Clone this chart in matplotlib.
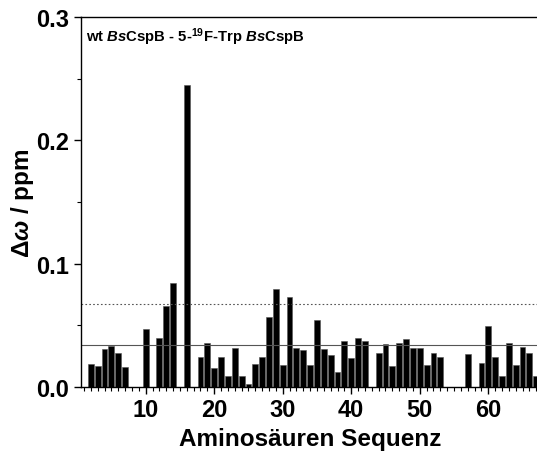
import numpy as np
import matplotlib
matplotlib.use("Agg")
import matplotlib.pyplot as plt
from matplotlib.ticker import MultipleLocator, FormatStrFormatter

plt.rcParams.update({'font.family': 'Liberation Sans', 'font.weight': 'bold',
                     'mathtext.fontset': 'custom', 'mathtext.rm': 'Liberation Sans',
                     'mathtext.it': 'Liberation Sans:italic',
                     'mathtext.bf': 'Liberation Sans:bold',
                     'mathtext.bfit': 'Liberation Sans:bold:italic'})

# residue number and chemical shift difference (ppm)
residues = np.arange(1, 68)
delta = [0.0, 0.0186, 0.0173, 0.0305, 0.033, 0.0276, 0.0162, 0.0, 0.0, 0.047,
         0.0, 0.0397, 0.066, 0.0846, 0.0, 0.245, 0.0, 0.024, 0.036, 0.0157,
         0.0246, 0.0086, 0.032, 0.0086, 0.0027, 0.019, 0.024, 0.057, 0.0797, 0.0178,
         0.073, 0.0316, 0.030, 0.0176, 0.0546, 0.0305, 0.0262, 0.0122, 0.0373, 0.0238,
         0.0395, 0.037, 0.0, 0.0273, 0.0346, 0.0173, 0.0357, 0.039, 0.0319, 0.0319,
         0.0176, 0.0276, 0.024, 0.0, 0.0, 0.0, 0.027, 0.0, 0.0195, 0.0497,
         0.0243, 0.0092, 0.0357, 0.0178, 0.0322, 0.0273, 0.0086]
mean_line = 0.034
sigma_line = 0.0673

fig = plt.figure(figsize=(5.37, 4.6), dpi=100)
ax = fig.add_axes([0.150, 0.1565, 0.855, 0.8045])
ax.bar(residues, delta, width=0.85, color='black', edgecolor='#555555', linewidth=0.4)
ax.axhline(mean_line, color='#555555', linewidth=0.8)
ax.axhline(sigma_line, color='#555555', linewidth=0.8, linestyle=(0, (1.5, 2)))

ax.set_xlim(0.5, 67.5)
ax.set_ylim(0, 0.3)
ax.xaxis.set_major_locator(MultipleLocator(10))
ax.xaxis.set_minor_locator(MultipleLocator(1))
ax.yaxis.set_major_locator(MultipleLocator(0.1))
ax.yaxis.set_minor_locator(MultipleLocator(0.05))
ax.yaxis.set_major_formatter(FormatStrFormatter('%.1f'))
ax.tick_params(which='major', direction='out', length=5, width=1, labelsize=17, pad=3)
ax.tick_params(which='minor', direction='out', length=3, width=0.8)
for lab in ax.get_xticklabels() + ax.get_yticklabels():
  lab.set_fontweight('bold')

ax.set_xlabel('Aminosäuren Sequenz', fontsize=17.5, fontweight='bold', labelpad=4)
ax.set_ylabel(r'$\mathbf{\Delta}\mathbfit{\omega}$ / ppm', fontsize=17.5, fontweight='bold', labelpad=0)
ax.text(0.012, 0.978, r'wt $\mathbfit{Bs}$CspB - 5-$^{\mathbf{19}}$F-Trp $\mathbfit{Bs}$CspB',
        transform=ax.transAxes, fontsize=10.7, fontweight='bold', va='top', ha='left')

for s in ax.spines.values():
  s.set_linewidth(1)

fig.savefig('out.png', dpi=100)
